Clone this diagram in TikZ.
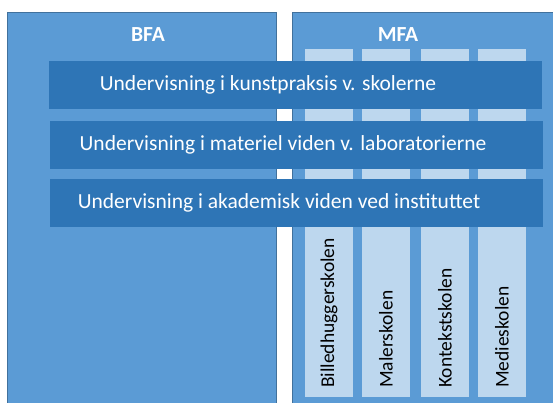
\documentclass[tikz,border=0pt]{standalone}
\usepackage{fontspec}
\setmainfont{Carlito}
\definecolor{progblue}{HTML}{5B9BD5}
\definecolor{teachblue}{HTML}{2E75B6}
\definecolor{schoolblue}{HTML}{BDD7EE}
\definecolor{rimblue}{HTML}{41719C}

\begin{document}
\begin{tikzpicture}[x=1pt,y=-1pt,
  prog/.style={draw=rimblue, fill=progblue, line width=0.6pt, anchor=north west, minimum height=420pt},
  school/.style={fill=schoolblue, anchor=north west, minimum width=48pt, minimum height=348pt, inner sep=0pt},
  teach/.style={fill=teachblue, anchor=north west, minimum width=493pt, minimum height=48pt, inner sep=0pt},
  teachtext/.style={text=white, font=\fontsize{21.5}{24}\selectfont},
  progtext/.style={text=white, font=\fontsize{21.5}{24}\selectfont\bfseries},
  schooltext/.style={rotate=90, anchor=west, inner sep=0pt, font=\fontsize{19.5}{22}\selectfont}]
  \clip (0,0) rectangle (553,403);
  \fill[white] (0,0) rectangle (553,403);
  % the two programmes
  \node[prog, minimum width=269pt] (bfa) at (7,12) {};
  \node[prog, minimum width=280pt] (mfa) at (292,12) {};
  \node[progtext] (bfatitle) at (148,35) {BFA};
  \node[progtext] (mfatitle) at (398,35) {MFA};
  % the schools
  \node[school] (sculpt) at (305,49) {};
  \node[school] (paint) at (362,49) {};
  \node[school] (context) at (421,49) {};
  \node[school] (media) at (478,49) {};
  \node[schooltext] at (329,388) {Billedhuggerskolen};
  \node[schooltext] at (386,388) {Malerskolen};
  \node[schooltext] at (445,388) {Kontekstskolen};
  \node[schooltext] at (502,388) {Medieskolen};
  % the teaching bars
  \node[teach] (practice) at (49,61) {};
  \node[teach] (material) at (50,121) {};
  \node[teach] (academic) at (50,179) {};
  \node[teachtext] at (268,85) {Undervisning i kunstpraksis v. skolerne};
  \node[teachtext] at (283,145) {Undervisning i materiel viden v. laboratorierne};
  \node[teachtext] at (279,203) {Undervisning i akademisk viden ved instituttet};
\end{tikzpicture}
\end{document}
